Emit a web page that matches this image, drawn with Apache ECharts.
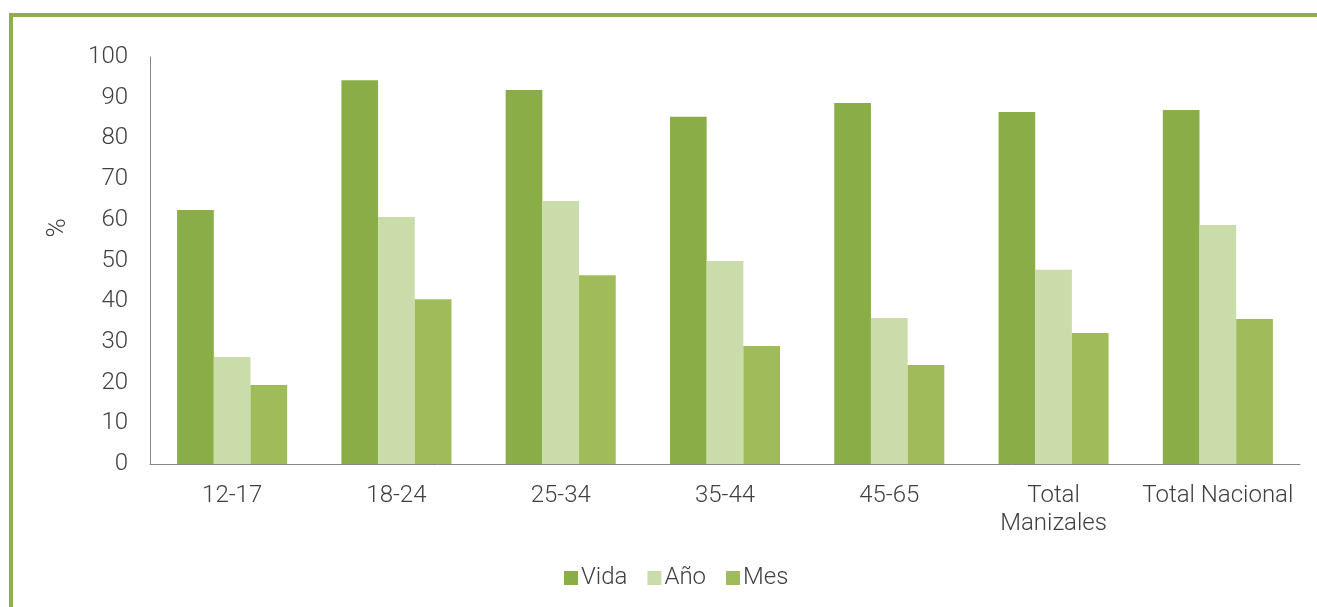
<!DOCTYPE html>
<html>
<head>
<meta charset="utf-8">
<script src="https://cdn.jsdelivr.net/npm/echarts@6/dist/echarts.min.js"></script>
<style>
html,body{margin:0;padding:0;background:#fff;}
#c{width:1317px;height:607px;}
</style>
</head>
<body>
<div id="c"></div>
<script>
const categories = ['12-17', '18-24', '25-34', '35-44', '45-65', 'Total\nManizales', 'Total Nacional'];
const vida = [62.4, 94.3, 91.9, 85.3, 88.7, 86.5, 87.0];
const anio = [26.3, 60.7, 64.6, 49.9, 35.9, 47.7, 58.7];
const mes = [19.4, 40.5, 46.4, 29.0, 24.3, 32.2, 35.6];
const yTicks = [0, 10, 20, 30, 40, 50, 60, 70, 80, 90, 100];
const yName = '%';

const font = 'Roboto';
const txt = '#404040';
const chart = echarts.init(document.getElementById('c'), null, {renderer: 'canvas'});
chart.setOption({
  animation: false,
  backgroundColor: '#ffffff',
  graphic: [
    {type: 'rect', shape: {x: 9, y: 13, width: 1308, height: 4}, style: {fill: '#8db04a'}, silent: true},
    {type: 'rect', shape: {x: 9, y: 13, width: 4, height: 600}, style: {fill: '#8db04a'}, silent: true},
    {type: 'text', x: 58, y: 228, rotation: Math.PI / 2, silent: true,
     style: {text: yName, fontFamily: font, fontWeight: 300, fontSize: 26, fill: txt, align: 'center', verticalAlign: 'middle'}}
  ],
  grid: {left: 150, top: 57, right: 17, bottom: 143, containLabel: false},
  legend: {
    data: ['Vida', 'Año', 'Mes'],
    left: 559, top: 561,
    itemWidth: 14, itemHeight: 14, itemGap: 20,
    icon: 'rect',
    textStyle: {fontFamily: font, fontWeight: 300, fontSize: 24, color: txt, padding: [0, 0, 0, -2]}
  },
  xAxis: {
    type: 'category',
    data: categories,
    axisLine: {lineStyle: {color: '#868686', width: 1}},
    axisTick: {show: false},
    axisLabel: {fontFamily: font, fontWeight: 300, fontSize: 24, color: txt, margin: 18, lineHeight: 28, interval: 0}
  },
  yAxis: {
    type: 'value',
    min: yTicks[0], max: yTicks[yTicks.length - 1], interval: 10,
    axisLine: {show: true, lineStyle: {color: '#868686', width: 1}},
    axisTick: {show: false},
    splitLine: {show: false},
    axisLabel: {fontFamily: font, fontWeight: 300, fontSize: 24, color: txt, margin: 22}
  },
  series: [
    {name: 'Vida', type: 'bar', data: vida, itemStyle: {color: '#8aad47'}, barGap: '0%', barCategoryGap: '33%'},
    {name: 'Año', type: 'bar', data: anio, itemStyle: {color: '#cbdcab'}, barGap: '0%', barCategoryGap: '33%'},
    {name: 'Mes', type: 'bar', data: mes, itemStyle: {color: '#9fbb5a'}, barGap: '0%', barCategoryGap: '33%'}
  ]
});
</script>
</body>
</html>
